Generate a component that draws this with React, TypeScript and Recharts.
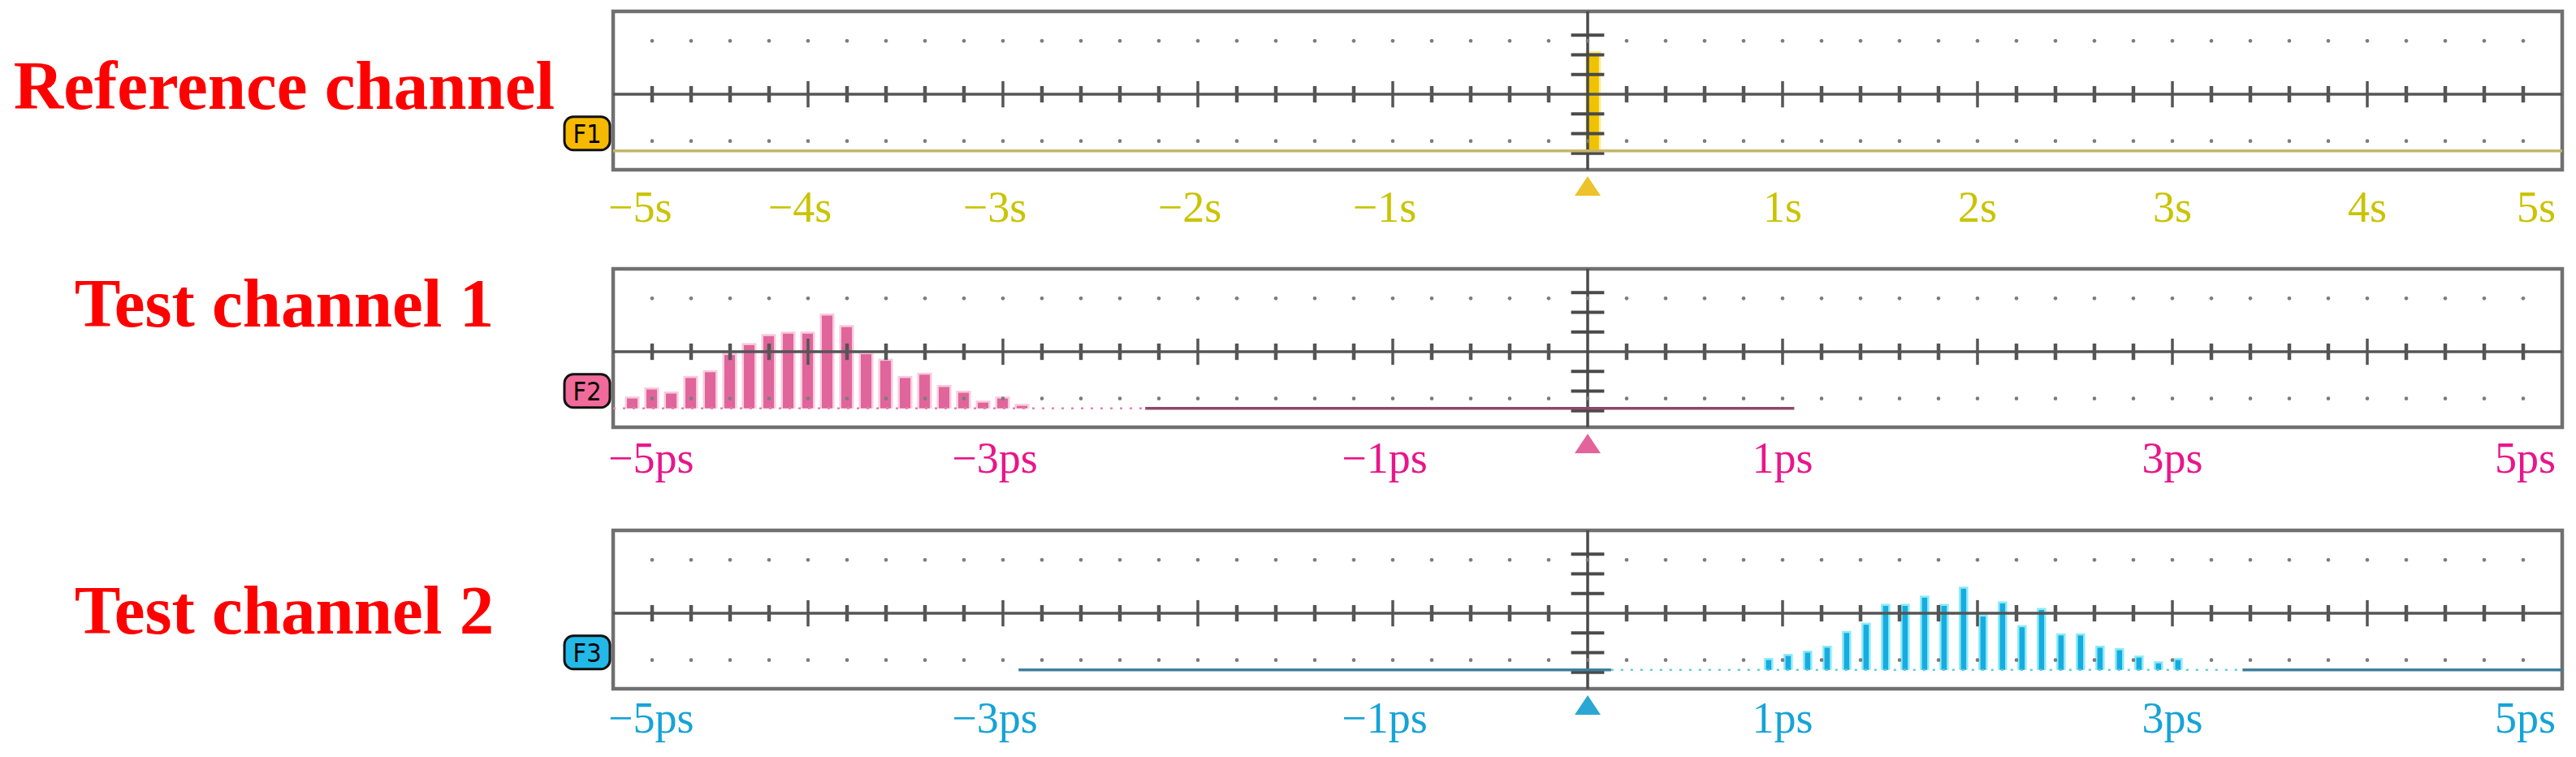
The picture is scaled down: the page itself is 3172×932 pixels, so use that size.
import React from 'react';
import {
  ComposedChart,
  Bar,
  Line,
  XAxis,
  YAxis,
  ReferenceLine,
  ReferenceArea,
  ReferenceDot,
} from 'recharts';

// ---------------- data ----------------
// Reference channel (time in s, amplitude in screen units above trace baseline)
const refTimes = [0.03];
const refAmps = [119];
const refTraceTimes = [-5, 5];
const refTraceAmps = [0, 0];

// Test channel 1 (time in ps)
const ch1Times = [-4.9, -4.8, -4.7, -4.6, -4.5, -4.4, -4.3, -4.2, -4.1, -4.0, -3.9, -3.8, -3.7, -3.6, -3.5, -3.4, -3.3, -3.2, -3.1, -3.0, -2.9];
const ch1Amps = [12, 23, 18, 37, 44, 65, 77, 88, 91, 91, 113, 99, 66, 58, 37, 41, 26, 19, 7, 12, 3];
const ch1SolidTimes = [-2.27, 1.06];
const ch1SolidAmps = [0, 0];
const ch1FaintTimes = [-5, -2.27];
const ch1FaintAmps = [0, 0];

// Test channel 2 (time in ps)
const ch2Times = [0.93, 1.03, 1.13, 1.23, 1.33, 1.43, 1.53, 1.63, 1.73, 1.83, 1.93, 2.03, 2.13, 2.23, 2.33, 2.43, 2.53, 2.63, 2.73, 2.83, 2.93, 3.03];
const ch2Amps = [12, 17, 21, 27, 45, 55, 78, 78, 88, 78, 99, 65, 81, 52, 73, 42, 42, 27, 24, 15, 8, 12];
const ch2SolidTimes = [-2.92, 0.12, 1.5, 3.36, 5];
const ch2SolidAmps: (number | null)[] = [0, 0, null, 0, 0];
const ch2FaintTimes = [0.12, 3.36];
const ch2FaintAmps = [0, 0];

// Tick labels
const secTicks = [-5, -4, -3, -2, -1, 0, 1, 2, 3, 4, 5];
const secLabels = ['−5s', '−4s', '−3s', '−2s', '−1s', '', '1s', '2s', '3s', '4s', '5s'];
const psTicks = [-5, -3, -1, 0, 1, 3, 5];
const psLabels = ['−5ps', '−3ps', '−1ps', '', '1ps', '3ps', '5ps'];

const titles = ['Reference channel', 'Test channel 1', 'Test channel 2'];
const badges = ['F1', 'F2', 'F3'];

// ---------------- screen graticule (scope frame) ----------------
const Y_MIN = -23;
const Y_MAX = 170;
const Y_CENTER = 69;
const DOT_ROWS = [134, 12];
const V_TICKS = [141, 117, 93, 45, 21, -3];
const H_MINOR: number[] = [];
const H_MAJOR: number[] = [];
const DOT_X: number[] = [];
for (let i = -24; i <= 24; i++) {
  const v = Math.round(i * 2) / 10;
  DOT_X.push(v);
  if (i === 0) continue;
  if (i % 5 === 0) H_MAJOR.push(v);
  else H_MINOR.push(v);
}

const mk = (ts: number[], as: (number | null)[]) => ts.map((t, i) => ({ t, amp: as[i] }));

const SERIF = "'Liberation Serif','Times New Roman',serif";

function makeTick(ticks: number[], labels: string[], color: string, marker: string, labelDy: number) {
  return (props: any) => {
    const { x, y, payload } = props;
    const v = payload.value;
    if (v === 0) {
      return (
        <polygon
          points={`${x - 16},${y + 32} ${x + 16},${y + 32} ${x},${y + 8}`}
          fill={marker}
        />
      );
    }
    const label = labels[ticks.indexOf(v)];
    let anchor: 'start' | 'middle' | 'end' = 'middle';
    let dx = 0;
    if (v === -5) {
      anchor = 'start';
      dx = -6;
    } else if (v === 5) {
      anchor = 'end';
      dx = -8;
    } else if (v < 0) {
      dx = -10;
    }
    return (
      <text x={x + dx} y={y + labelDy} textAnchor={anchor} fill={color} fontFamily={SERIF} fontSize={54}>
        {label}
      </text>
    );
  };
}

function makeBar(core: string, glow: string) {
  return (props: any) => {
    const { x, y, width, height } = props;
    if (height == null || width == null) return <g />;
    return (
      <g>
        <rect x={x - 2.5} y={y - 2.5} width={width + 5} height={height + 2.5} fill={glow} opacity={0.8} />
        <rect x={x} y={y} width={width} height={height} fill={core} />
      </g>
    );
  };
}

function makeBadge(label: string, fill: string) {
  return (props: any) => {
    const { cx, cy } = props;
    return (
      <g>
        <rect x={cx - 60} y={cy - 42} width={56} height={41} rx={11} fill={fill} stroke="#111" strokeWidth={3} />
        <text
          x={cx - 32}
          y={cy - 10}
          textAnchor="middle"
          fontFamily="'DejaVu Sans Condensed','DejaVu Sans',sans-serif"
          fontSize={32}
          fill="#000"
        >
          {label}
        </text>
      </g>
    );
  };
}

type PanelProps = {
  top: number;
  bars: { t: number; amp: number | null }[];
  barCore: string;
  barGlow: string;
  barSize: number;
  solid: { t: number; amp: number | null }[];
  solidColor: string;
  faint?: { t: number; amp: number | null }[];
  faintColor?: string;
  ticks: number[];
  labels: string[];
  labelColor: string;
  labelDy: number;
  marker: string;
  badge: string;
  badgeFill: string;
};

function Panel(p: PanelProps) {
  return (
    <div style={{ position: 'absolute', left: 0, top: p.top }}>
      <ComposedChart width={3172} height={285} data={p.bars} margin={{ top: 10, right: 17, bottom: 0, left: 755 }}>
        <XAxis
          dataKey="t"
          type="number"
          domain={[-5, 5]}
          ticks={p.ticks}
          interval={0}
          allowDataOverflow
          axisLine={false}
          tickLine={false}
          tickSize={0}
          tickMargin={0}
          height={80}
          tick={makeTick(p.ticks, p.labels, p.labelColor, p.marker, p.labelDy)}
        />
        <YAxis hide type="number" domain={[Y_MIN, Y_MAX]} allowDataOverflow />
        {DOT_ROWS.map((r) =>
          DOT_X.map((dx) => (
            <ReferenceDot key={`d${r}_${dx}`} x={dx} y={r} r={2.3} fill="#7c7c7c" stroke="none" ifOverflow="visible" />
          ))
        )}
        <ReferenceLine y={Y_CENTER} stroke="#555555" strokeWidth={3.5} ifOverflow="visible" />
        {H_MINOR.map((v) => (
          <ReferenceLine
            key={`hm${v}`}
            segment={[{ x: v, y: Y_CENTER - 10 }, { x: v, y: Y_CENTER + 10 }]}
            stroke="#555555"
            strokeWidth={4.5}
            ifOverflow="visible"
          />
        ))}
        {H_MAJOR.map((v) => (
          <ReferenceLine
            key={`hM${v}`}
            segment={[{ x: v, y: Y_CENTER - 16 }, { x: v, y: Y_CENTER + 16 }]}
            stroke="#555555"
            strokeWidth={3.5}
            ifOverflow="visible"
          />
        ))}
        <ReferenceLine x={0} stroke="#4a4a4a" strokeWidth={3.5} ifOverflow="visible" />
        {V_TICKS.map((v) => (
          <ReferenceLine
            key={`v${v}`}
            segment={[{ x: -0.085, y: v }, { x: 0.085, y: v }]}
            stroke="#4a4a4a"
            strokeWidth={4}
            ifOverflow="visible"
          />
        ))}
        <ReferenceArea
          x1={-5}
          x2={5}
          y1={Y_MIN}
          y2={Y_MAX}
          fill="none"
          fillOpacity={0}
          stroke="#707070"
          strokeWidth={4.5}
          ifOverflow="visible"
        />
        {p.faint && (
          <Line
            data={p.faint}
            dataKey="amp"
            stroke={p.faintColor}
            strokeWidth={2.5}
            strokeDasharray="3 9"
            dot={false}
            activeDot={false}
            isAnimationActive={false}
          />
        )}
        <Line
          data={p.solid}
          dataKey="amp"
          stroke={p.solidColor}
          strokeWidth={3.5}
          dot={false}
          activeDot={false}
          connectNulls={false}
          isAnimationActive={false}
        />
        <Bar dataKey="amp" barSize={p.barSize} isAnimationActive={false} shape={makeBar(p.barCore, p.barGlow)} />
        <ReferenceDot x={-5} y={0} r={1} ifOverflow="visible" shape={makeBadge(p.badge, p.badgeFill)} />
      </ComposedChart>
    </div>
  );
}

export default function App() {
  return (
    <div
      style={{
        position: 'absolute',
        left: 0,
        top: 0,
        width: 3172,
        height: 932,
        background: '#ffffff',
        overflow: 'hidden',
      }}
    >
      <svg width={3172} height={932} style={{ position: 'absolute', left: 0, top: 0 }}>
        {titles.map((t, i) => (
          <text
            key={t}
            x={350}
            y={[134, 402, 780][i]}
            textAnchor="middle"
            fontFamily={SERIF}
            fontWeight="bold"
            fontSize={85}
            fill="#ff0000"
          >
            {t}
          </text>
        ))}
      </svg>
      <Panel
        top={4}
        bars={mk(refTimes, refAmps)}
        barCore="#f0c300"
        barGlow="#fbe87a"
        barSize={14}
        solid={mk(refTraceTimes, refTraceAmps)}
        solidColor="#c8b56c"
        ticks={secTicks}
        labels={secLabels}
        labelColor="#c9c300"
        labelDy={64}
        marker="#eec22a"
        badge={badges[0]}
        badgeFill="#f7b900"
      />
      <Panel
        top={321}
        bars={mk(ch1Times, ch1Amps)}
        barCore="#e0659a"
        barGlow="#f8bcd6"
        barSize={13}
        solid={mk(ch1SolidTimes, ch1SolidAmps)}
        solidColor="#8e4868"
        faint={mk(ch1FaintTimes, ch1FaintAmps)}
        faintColor="#e684b0"
        ticks={psTicks}
        labels={psLabels}
        labelColor="#e8158b"
        labelDy={56}
        marker="#e2649a"
        badge={badges[1]}
        badgeFill="#f06b99"
      />
      <Panel
        top={643}
        bars={mk(ch2Times, ch2Amps)}
        barCore="#17ace0"
        barGlow="#6fe6f6"
        barSize={14}
        solid={mk(ch2SolidTimes, ch2SolidAmps)}
        solidColor="#3f7e9c"
        faint={mk(ch2FaintTimes, ch2FaintAmps)}
        faintColor="#5fcbe2"
        ticks={psTicks}
        labels={psLabels}
        labelColor="#16a3d8"
        labelDy={54}
        marker="#2aa7d2"
        badge={badges[2]}
        badgeFill="#22b8e8"
      />
    </div>
  );
}
